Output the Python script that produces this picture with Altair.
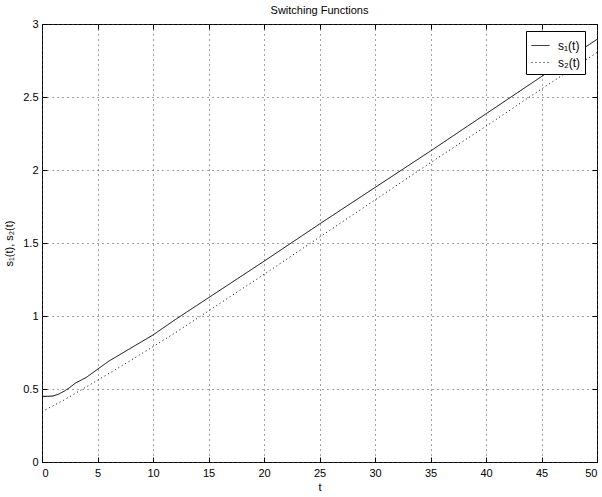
import altair as alt
import pandas as pd

# Switching function samples
t_s1 = [0, 0.5, 1, 1.5, 2, 2.5, 3, 3.5, 4, 5, 6, 7, 8, 10, 12, 15, 20, 25, 30, 35, 40, 45, 50]
s1 = [0.45, 0.45, 0.452, 0.465, 0.485, 0.51, 0.54, 0.56, 0.58, 0.635, 0.69, 0.735, 0.78,
      0.87, 0.975, 1.125, 1.375, 1.63, 1.88, 2.13, 2.385, 2.64, 2.895]
t_s2 = [0, 1, 2, 3, 4, 5, 7, 10, 12, 15, 20, 25, 30, 35, 40, 45, 50]
s2 = [0.345, 0.385, 0.425, 0.47, 0.515, 0.56, 0.65, 0.79, 0.885, 1.035, 1.285, 1.54,
      1.795, 2.05, 2.30, 2.555, 2.805]

series_names = ["s\u2081(t)", "s\u2082(t)"]
x_ticks = list(range(0, 51, 5))
y_ticks = [0, 0.5, 1, 1.5, 2, 2.5, 3]

df = pd.concat([
    pd.DataFrame({"t": t_s1, "s": s1, "series": series_names[0]}),
    pd.DataFrame({"t": t_s2, "s": s2, "series": series_names[1]}),
])

W, H = 555, 438
FONT = "Liberation Sans"

xs = alt.Scale(domain=[0, 50], nice=False, zero=False)
ys = alt.Scale(domain=[0, 3], nice=False, zero=False)

grid_style = dict(grid=True, gridColor="#444", gridDash=[1, 4], gridWidth=1, gridOpacity=1)
text_style = dict(labelFont=FONT, labelFontSize=11, labelColor="black",
                  titleFont=FONT, titleFontSize=11, titleColor="black",
                  titleFontWeight="normal")

lines = alt.Chart(df).mark_line(strokeWidth=1, color="black").encode(
    x=alt.X("t:Q", scale=xs, title="t",
            axis=alt.Axis(values=x_ticks, ticks=False, domain=False,
                          labelPadding=5, titlePadding=3, **grid_style, **text_style)),
    y=alt.Y("s:Q", scale=ys, title="s\u2081(t), s\u2082(t)",
            axis=alt.Axis(values=y_ticks, format=".1~f", ticks=False, domain=False,
                          labelPadding=4, titlePadding=8, **grid_style, **text_style)),
    strokeDash=alt.StrokeDash(
        "series:N",
        scale=alt.Scale(domain=series_names, range=[[1, 0], [1, 3]]),
        legend=alt.Legend(title=None, orient="none", legendX=484, legendY=7,
                          symbolType="stroke", symbolSize=324,
                          symbolStrokeColor="black", symbolStrokeWidth=1,
                          strokeColor="black", fillColor="white", padding=5,
                          rowPadding=1, labelFontSize=12, labelFont=FONT,
                          labelColor="black", labelOffset=8),
    ),
    order="t:Q",
)

def tick_layer(x_orient, y_orient):
    # invisible layer carrying inward tick marks along one pair of frame edges
    return alt.Chart(df).mark_point(opacity=0).encode(
        x=alt.X("t:Q", scale=xs, title=None,
                axis=alt.Axis(orient=x_orient, offset=-H, values=x_ticks, labels=False,
                              domain=False, grid=False, ticks=True, tickSize=5,
                              tickColor="black")),
        y=alt.Y("s:Q", scale=ys, title=None,
                axis=alt.Axis(orient=y_orient, offset=-W, values=y_ticks, labels=False,
                              domain=False, grid=False, ticks=True, tickSize=5,
                              tickColor="black")),
    )

chart = alt.layer(
    lines,
    tick_layer("top", "right"),
    tick_layer("bottom", "left"),
).resolve_axis(x="independent", y="independent").properties(
    width=W, height=H,
    background="white",
    title=alt.Title("Switching Functions", fontSize=11, fontWeight="normal",
                    font=FONT, color="black", offset=2),
    autosize=alt.AutoSizeParams(type="none"),
    padding={"left": 42, "top": 24, "right": 5, "bottom": 35},
).configure_view(
    stroke="black", strokeWidth=1
)

chart.save("out.html", embed_options={"renderer": "svg", "actions": False})
